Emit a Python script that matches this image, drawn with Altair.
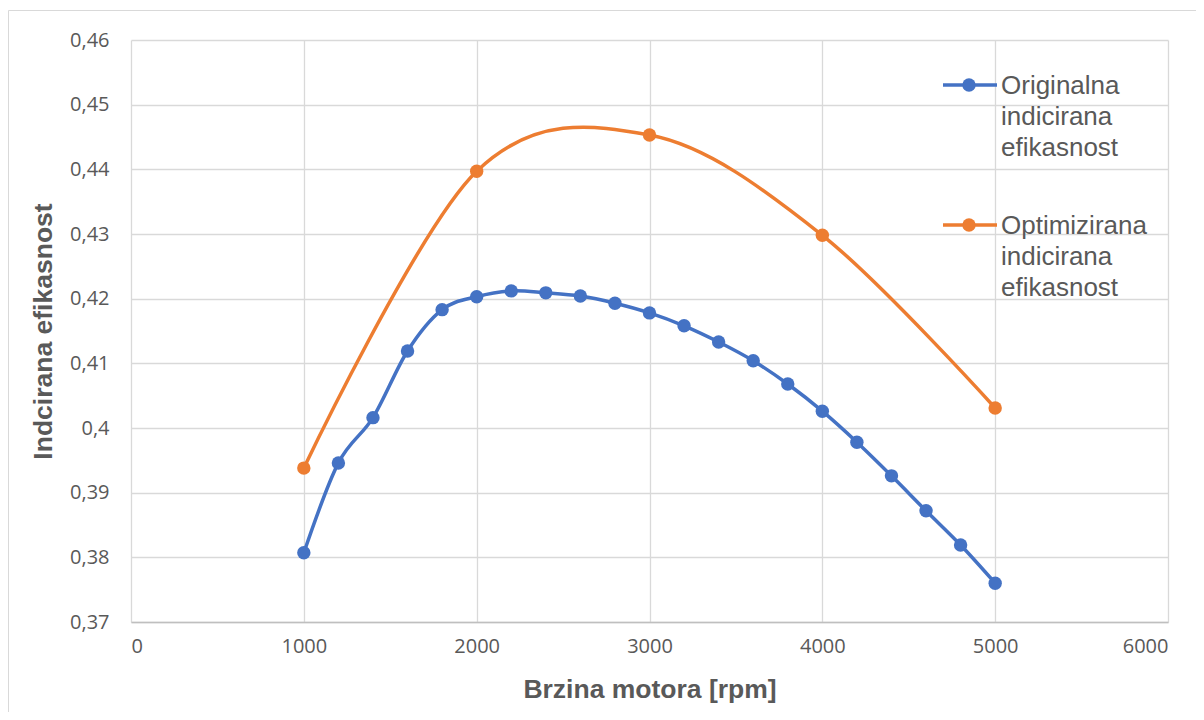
import altair as alt
import pandas as pd

rpm_orig = [1000, 1200, 1400, 1600, 1800, 2000, 2200, 2400, 2600, 2800, 3000,
            3200, 3400, 3600, 3800, 4000, 4200, 4400, 4600, 4800, 5000]
eff_orig = [0.3807, 0.3946, 0.4016, 0.4119, 0.4183, 0.4203, 0.4212, 0.4209,
            0.4204, 0.4193, 0.4178, 0.4158, 0.4133, 0.4104, 0.4068, 0.4026,
            0.3978, 0.3926, 0.3872, 0.3819, 0.3760]
rpm_opt = [1000, 2000, 3000, 4000, 5000]
eff_opt = [0.3938, 0.4397, 0.4453, 0.4298, 0.4031]

s1 = "Originalna indicirana efikasnost"
s2 = "Optimizirana indicirana efikasnost"
series_names = [s1, s2]
series_colors = ["#4472C4", "#ED7D31"]

df = pd.concat([
    pd.DataFrame({"rpm": rpm_orig, "eff": eff_orig, "series": s1}),
    pd.DataFrame({"rpm": rpm_opt, "eff": eff_opt, "series": s2}),
])
leg_df = pd.DataFrame({"series": series_names})

W, H = 1037, 582
cscale = alt.Scale(domain=series_names, range=series_colors)

x_enc = alt.X("rpm:Q", scale=alt.Scale(domain=[0, 6000], nice=False),
              axis=alt.Axis(values=[0, 1000, 2000, 3000, 4000, 5000, 6000], format="d",
                            title="Brzina motora [rpm]", titleY=75,
                            titleBaseline="alphabetic"))
y_enc = alt.Y("eff:Q", scale=alt.Scale(domain=[0.37, 0.46], nice=False, zero=False),
              axis=alt.Axis(values=[0.37, 0.38, 0.39, 0.40, 0.41, 0.42, 0.43, 0.44, 0.45, 0.46],
                            labelExpr="replace(toString(round(datum.value*100)/100), '.', ',')",
                            title="Indcirana efikasnost", titleX=-80, titleY=H / 2,
                            titleAngle=270, titleAlign="center",
                            titleBaseline="alphabetic", domain=False))

border = alt.Chart(pd.DataFrame({"a": [0]})).mark_rect(
    fill=None, stroke="#d9d9d9", strokeWidth=1, clip=False
).encode(x=alt.value(-122.5), x2=alt.value(1200), y=alt.value(-29.5), y2=alt.value(800))

line = alt.Chart(df).mark_line(interpolate="cardinal", strokeWidth=3.5).encode(
    x=x_enc, y=y_enc,
    color=alt.Color("series:N", scale=cscale, legend=None),
)
pts = alt.Chart(df).mark_circle(size=180, opacity=1).encode(
    x=x_enc, y=y_enc,
    color=alt.Color("series:N", scale=cscale, legend=None),
)

# manual legend
leg_y = alt.Y("series:N", scale=alt.Scale(type="point", domain=series_names,
                                          range=[45, 185], padding=0), axis=None)
leg_color = alt.Color("series:N", scale=cscale, legend=None)
leg_rule = alt.Chart(leg_df).mark_rule(strokeWidth=3.5).encode(
    x=alt.value(812), x2=alt.value(866), y=leg_y, color=leg_color)
leg_dot = alt.Chart(leg_df).mark_circle(size=180, opacity=1).encode(
    x=alt.value(838), y=leg_y, color=leg_color)
leg_text = alt.Chart(leg_df).mark_text(
    align="left", baseline="top", dy=-12, font="Liberation Sans", fontSize=26,
    lineBreak=" ", lineHeight=31, color="#595959"
).encode(x=alt.value(870), y=leg_y, text="series:N")

legend_layer = alt.layer(leg_rule, leg_dot, leg_text)
data_layer = alt.layer(border, line, pts)

chart = alt.layer(data_layer, legend_layer).resolve_scale(y="independent").properties(
    width=W, height=H,
    autosize=alt.AutoSizeParams(type="none"),
    padding={"left": 123, "top": 32, "right": 28, "bottom": 90},
).configure_view(stroke=None).configure_axis(
    grid=True, gridColor="#d9d9d9", gridWidth=1.3, ticks=False,
    labelFont="Open Sans", labelFontSize=20, labelColor="#595959",
    titleFont="Liberation Sans", titleFontSize=26.5, titleFontWeight="bold",
    titleColor="#595959", domainColor="#bfbfbf", domainWidth=1.3,
).configure_axisX(labelPadding=14).configure_axisY(labelPadding=22)

chart.save("out.html", embed_options={"renderer": "svg", "actions": False})
